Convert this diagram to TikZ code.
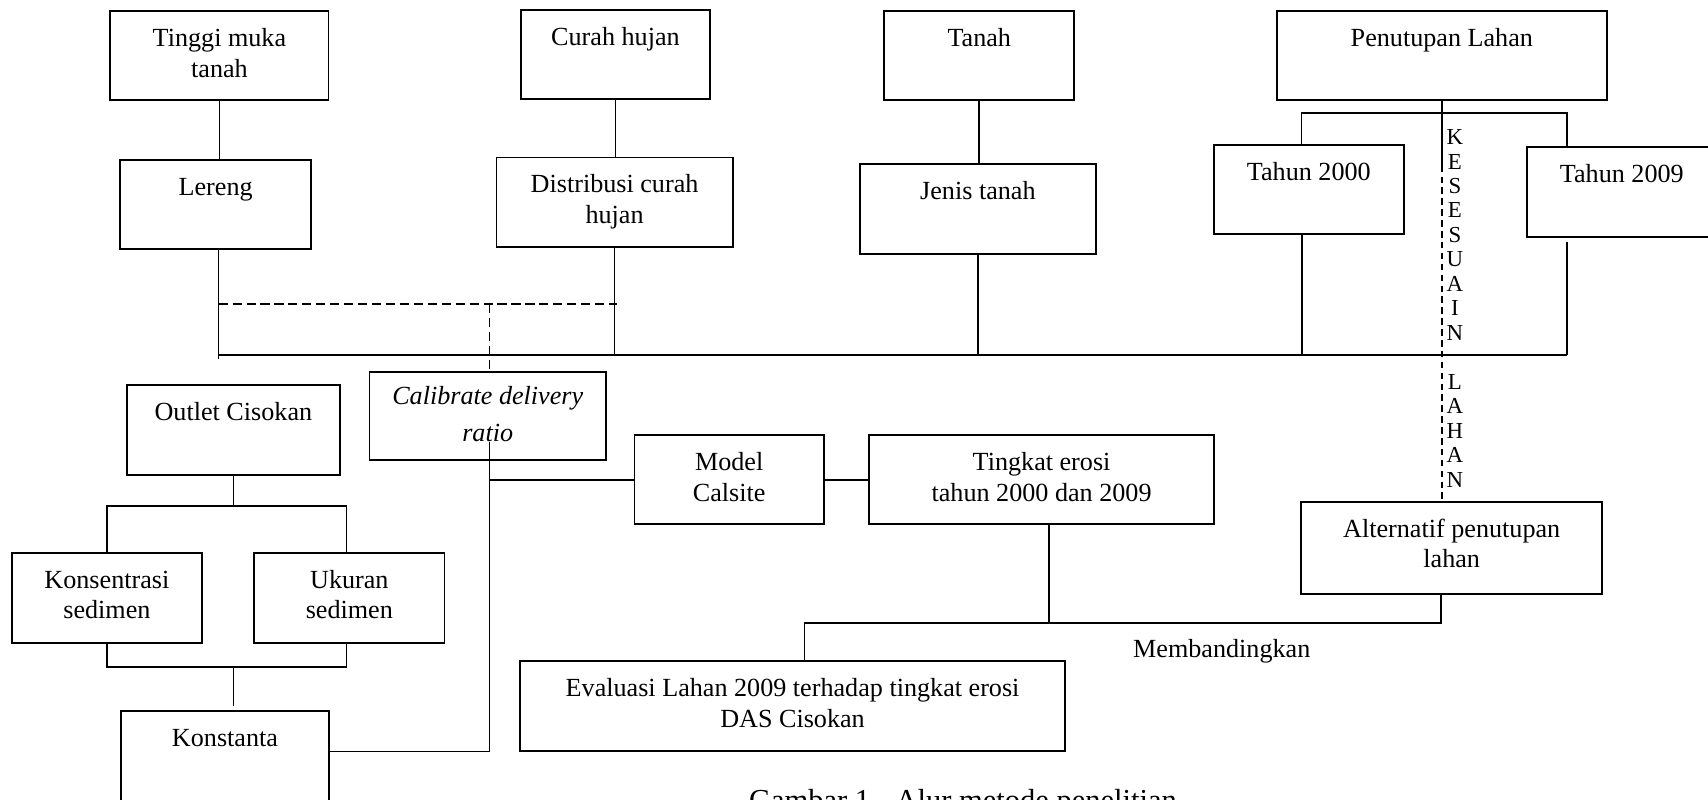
\documentclass[tikz,border=0pt]{standalone}
\usepackage{fontspec}
\setmainfont{Liberation Serif}
\tikzset{
  box/.style={draw, line width=0.8pt, inner sep=0pt, rectangle},
  txt/.style={inner sep=0pt, align=center, font=\fontsize{12}{14.2}\selectfont},
  itxt/.style={inner sep=0pt, align=center, font=\fontsize{12}{16.8}\selectfont\itshape},
  plain/.style={inner sep=0pt, font=\fontsize{12}{14.2}\selectfont},
  captxt/.style={inner sep=0pt, font=\fontsize{14}{16}\selectfont},
  vl/.style={inner sep=0pt, font=\fontsize{10.5}{12}\selectfont},
  link/.style={line width=0.8pt},
  dsh/.style={line width=0.8pt, dash pattern=on 4.2pt off 2.2pt},
  dshv/.style={line width=0.8pt, dash pattern=on 3pt off 2pt}
}
\newcommand{\mkbox}[5]{\node[box, minimum width={(#4-#2)*0.5pt}, minimum height={(#5-#3)*0.5pt}] (#1) at ({(#2+#4)/2},{(#3+#5)/2}) {};}
\newcommand{\mktxt}[2]{\node[txt, anchor=north] (#1-t) at ([yshift=-6.46pt]#1.north) {\strut #2};}
\begin{document}
\begin{tikzpicture}[x=0.5pt, y=-0.5pt]
\useasboundingbox (0,0) rectangle (1568,734);
\clip (0,0) rectangle (1568,734);

% boxes
\mkbox{tinggi}{101.3}{10.1}{301.6}{91.8}
\mkbox{curah}{478}{9.2}{652}{91.2}
\mkbox{tanah}{811.8}{10.1}{986.2}{91.8}
\mkbox{pen}{1172.3}{10.4}{1475}{92.1}
\mkbox{lereng}{110.5}{146.9}{285.4}{228.9}
\mkbox{distr}{455.8}{144.7}{672.6}{226.8}
\mkbox{jenis}{789.5}{150.8}{1006}{233.2}
\mkbox{tduaribu}{1114.2}{133.1}{1288.9}{215.1}
\mkbox{tsembilan}{1401.8}{135}{1576}{217.3}
\mkbox{outlet}{116.7}{353.4}{311.8}{435.8}
\mkbox{calib}{339.2}{341.2}{556.3}{422.3}
\mkbox{kons}{10.8}{507.4}{185.5}{590}
\mkbox{ukuran}{233.4}{507.4}{408}{590}
\mkbox{kon}{111.3}{652.7}{301.8}{760}
\mkbox{model}{582.4}{399.4}{756.5}{481.3}
\mkbox{tingkat}{797.6}{399.4}{1114.8}{481.3}
\mkbox{alt}{1194.4}{460.6}{1471}{545}
\mkbox{eval}{477.7}{606.8}{977.5}{689.4}

% texts
\mktxt{tinggi}{Tinggi muka\\tanah}
\mktxt{curah}{Curah hujan}
\mktxt{tanah}{Tanah}
\mktxt{pen}{Penutupan Lahan}
\mktxt{lereng}{Lereng}
\mktxt{distr}{Distribusi curah\\hujan}
\mktxt{jenis}{Jenis tanah}
\mktxt{tduaribu}{Tahun 2000}
\mktxt{tsembilan}{Tahun 2009}
\mktxt{outlet}{Outlet Cisokan}
\node[itxt, anchor=north] (calib-t) at ([yshift=-3.54pt]calib.north) {\strut Calibrate delivery\\ratio};
\mktxt{kons}{Konsentrasi\\sedimen}
\mktxt{ukuran}{Ukuran\\sedimen}
\mktxt{kon}{Konstanta}
\mktxt{model}{Model\\Calsite}
\mktxt{tingkat}{Tingkat erosi\\tahun 2000 dan 2009}
\mktxt{alt}{Alternatif penutupan\\lahan}
\mktxt{eval}{Evaluasi Lahan 2009 terhadap tingkat erosi\\DAS Cisokan}

\node[plain, anchor=base] (banding) at (1121.6,604) {Membandingkan};
\node[captxt, anchor=base] (caption) at (884,744.5) {Gambar 1.~ Alur metode penelitian};

% vertical letters
\foreach \ch [count=\i from 0] in {K,E,S,E,S,U,A,I,N}
  \node[vl] (v\i) at (1335.7,{125.8+22.48*\i}) {\ch};
\foreach \ch [count=\i from 10] in {L,A,H,A,N}
  \node[vl] (v\i) at (1335.7,{125.8+22.48*\i}) {\ch};

% coordinates
\coordinate (busL) at (200.7,325.6);
\coordinate (busR) at (1438.3,325.6);
\coordinate (lerEnd) at (200.7,329.6);
\coordinate (brL) at (1194.8,103.7);
\coordinate (brR) at (1438.3,103.7);
\coordinate (tdx) at (1195.3,325.6);
\coordinate (kd) at (1323.5,152.1);
\coordinate (dL) at (200.7,279);
\coordinate (dR) at (566,279);
\coordinate (cv) at (449.4,405.5);
\coordinate (kc) at (449.4,690);
\coordinate (obL) at (98.5,464.2);
\coordinate (obR) at (318,464.2);
\coordinate (lbL) at (98.5,612);
\coordinate (lbR) at (318,612);
\coordinate (tbm) at (963,572);
\coordinate (ebL) at (738.6,572);
\coordinate (ebR) at (1323,572);

% top connectors
\draw[link] (tinggi.south) -- (tinggi.south |- lereng.north);
\draw[link] (curah.south) -- (curah.south |- distr.north);
\draw[link] (tanah.south) -- (tanah.south |- jenis.north);
\draw[link] (kd |- pen.south) -- (kd);
\draw[dshv] (kd) -- (kd |- alt.north);
\draw[link] (brL |- tduaribu.north) -- (brL) -- (brR) -- (brR |- tsembilan.north);

% bus
\draw[link] (busL) -- (busR);
\draw[link] (lerEnd |- lereng.south) -- (lerEnd);
\draw[link] (distr.south) -- (distr.south |- busL);
\draw[link] (jenis.south) -- (jenis.south |- busL);
\draw[link] (tdx |- tduaribu.south) -- (tdx);
\draw[link] ([yshift=-2pt]tsembilan.south -| busR) -- (busR);

% dashed
\draw[dsh] (dL) -- (dR);
\draw[dsh] (cv |- dL) -- (cv |- calib.north);

% calibrate
\draw[link] (cv) -- (kc) -- (kc -| kon.east);
\draw[link] (model.west -| cv) -- (model.west);
\draw[link] (model.east) -- (tingkat.west);

% outlet tree
\draw[link] (outlet.south) -- (outlet.south |- obL);
\draw[link] (obL |- kons.north) -- (obL) -- (obR) -- (obR |- ukuran.north);
\draw[link] (lbL |- kons.south) -- (lbL) -- (lbR) -- (lbR |- ukuran.south);
\draw[link] (outlet.south |- lbL) -- ([yshift=2pt]outlet.south |- kon.north);

% bottom
\draw[link] (tbm |- tingkat.south) -- (tbm);
\draw[link] (ebL |- eval.north) -- (ebL) -- (ebR) -- (ebR |- alt.south);
\end{tikzpicture}
\end{document}
